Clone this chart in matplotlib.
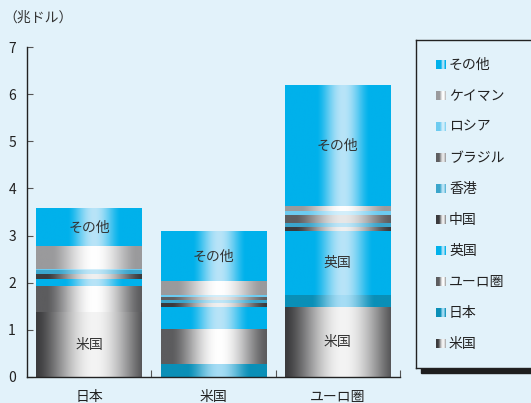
import numpy as np
import matplotlib
matplotlib.use("Agg")
import matplotlib.pyplot as plt
from matplotlib.colors import to_rgb
from matplotlib.patches import Rectangle

plt.rcParams['font.family'] = ['Noto Sans CJK JP', 'DejaVu Sans']

# Holders (bottom of stack first) and holdings per country, in trillion USD
categories = ["日本", "米国", "ユーロ圏"]
series = ["米国", "日本", "ユーロ圏", "英国", "中国", "香港",
          "ブラジル", "ロシア", "ケイマン", "その他"]
values = {
    "米国":     [1.37, 0.00, 1.48],
    "日本":     [0.00, 0.28, 0.25],
    "ユーロ圏": [0.55, 0.74, 0.00],
    "英国":     [0.16, 0.46, 1.36],
    "中国":     [0.10, 0.08, 0.09],
    "香港":     [0.09, 0.07, 0.09],
    "ブラジル": [0.01, 0.06, 0.17],
    "ロシア":   [0.02, 0.04, 0.09],
    "ケイマン": [0.47, 0.30, 0.09],
    "その他":   [0.80, 1.04, 2.55],
}
yticks = [0, 1, 2, 3, 4, 5, 6, 7]
unit_label = "（兆ドル）"
# segments that carry an inline label
inline_labels = [("日本", "その他"), ("日本", "米国"), ("米国", "その他"),
                 ("ユーロ圏", "その他"), ("ユーロ圏", "英国"), ("ユーロ圏", "米国")]

# shading per series: edge colour, highlight colour, highlight half-width
style = {
    "米国":     ("#3b3b3d", "#f4f4f4", 0.55),
    "日本":     ("#0a8fb7", "#a6ddf5", 0.30),
    "ユーロ圏": ("#5c5c5e", "#ffffff", 0.45),
    "英国":     ("#00b1eb", "#b8e4f8", 0.28),
    "中国":     ("#3a3a3c", "#f0f0f0", 0.45),
    "香港":     ("#3aa5cb", "#c0e6f7", 0.35),
    "ブラジル": ("#5e5e60", "#e8e8e8", 0.45),
    "ロシア":   ("#6ccbf0", "#d4effb", 0.35),
    "ケイマン": ("#9a9a9c", "#ffffff", 0.40),
    "その他":   ("#00b1eb", "#b8e4f8", 0.25),
}
BG = "#e2f2fa"


def gradient_row(name, n=200, peak=0.55):
    edge, high, hw = style[name]
    edge = np.array(to_rgb(edge))
    high = np.array(to_rgb(high))
    t = np.linspace(0, 1, n)
    w = np.clip(1 - np.abs(t - peak) / hw, 0, 1)
    w = np.sin(w * np.pi / 2) ** 1.5
    row = edge[None, :] + w[:, None] * (high - edge)[None, :]
    return row[None, :, :]


fig = plt.figure(figsize=(5.31, 4.03), dpi=100, facecolor=BG)
ax = fig.add_axes([27 / 531, 26 / 403, 373 / 531, 330 / 403])
ax.set_facecolor(BG)

x = np.arange(len(categories))
width = 0.85
bottom = np.zeros(len(categories))
for name in series:
    vals = np.array(values[name])
    bars = ax.bar(x, vals, width, bottom=bottom, color="none",
                  edgecolor="none", label=name)
    img = gradient_row(name)
    for rect, v in zip(bars, vals):
        if v <= 0:
            continue
        x0, y0 = rect.get_x(), rect.get_y()
        ax.imshow(img, extent=(x0, x0 + rect.get_width(), y0, y0 + v),
                  aspect="auto", interpolation="bilinear", zorder=2)
    for i, cat in enumerate(categories):
        if (cat, name) in inline_labels:
            ax.text(x[i], bottom[i] + vals[i] / 2, name, ha="center",
                    va="center", fontsize=10, color="#333333", zorder=3)
    bottom += vals

ax.set_xlim(-0.5, 2.5)
ax.set_ylim(0, 7)
ax.set_yticks(yticks)
ax.set_yticklabels([str(v) for v in yticks])
ax.set_xticks(x)
ax.set_xticklabels(categories)
ax.set_xticks([0.5, 1.5, 2.5], minor=True)
ax.tick_params(axis="x", which="major", length=0, pad=9, labelsize=10,
               labelcolor="#222222")
ax.tick_params(axis="x", which="minor", direction="in", length=5,
               width=0.8, color="#555555")
ax.tick_params(axis="y", direction="in", length=4, width=0.8, pad=8,
               labelsize=10, labelcolor="#222222", color="#555555")
for s in ("top", "right"):
    ax.spines[s].set_visible(False)
for s in ("left", "bottom"):
    ax.spines[s].set_color("#222222")
    ax.spines[s].set_linewidth(1.0)

fig.text(3 / 531, 1 - 18 / 403, unit_label, fontsize=10, color="#333333",
         va="center", ha="left")

# legend panel with drop shadow
shadow = Rectangle((421 / 531, (403 - 373) / 403), 0.3, 8 / 403,
                   transform=fig.transFigure, color="#1e1e1e", zorder=-1)
fig.patches.append(shadow)
lax = fig.add_axes([416 / 531, (403 - 368) / 403, 125 / 531, 328 / 403])
lax.set_facecolor(BG)
lax.set_xticks([])
lax.set_yticks([])
for s in lax.spines.values():
    s.set_color("#222222")
    s.set_linewidth(1.0)
for k, name in enumerate(reversed(series)):
    yc = 25 + 31 * k
    lax.imshow(gradient_row(name, n=20, peak=0.75),
               extent=(20, 30, yc + 4.5, yc - 4.5), aspect="auto",
               interpolation="nearest", zorder=2)
    lax.text(33, yc, name, fontsize=10, color="#222222",
             va="center", ha="left")
lax.set_xlim(0, 125)
lax.set_ylim(328, 0)

fig.savefig("out.png", dpi=100, facecolor=BG)
